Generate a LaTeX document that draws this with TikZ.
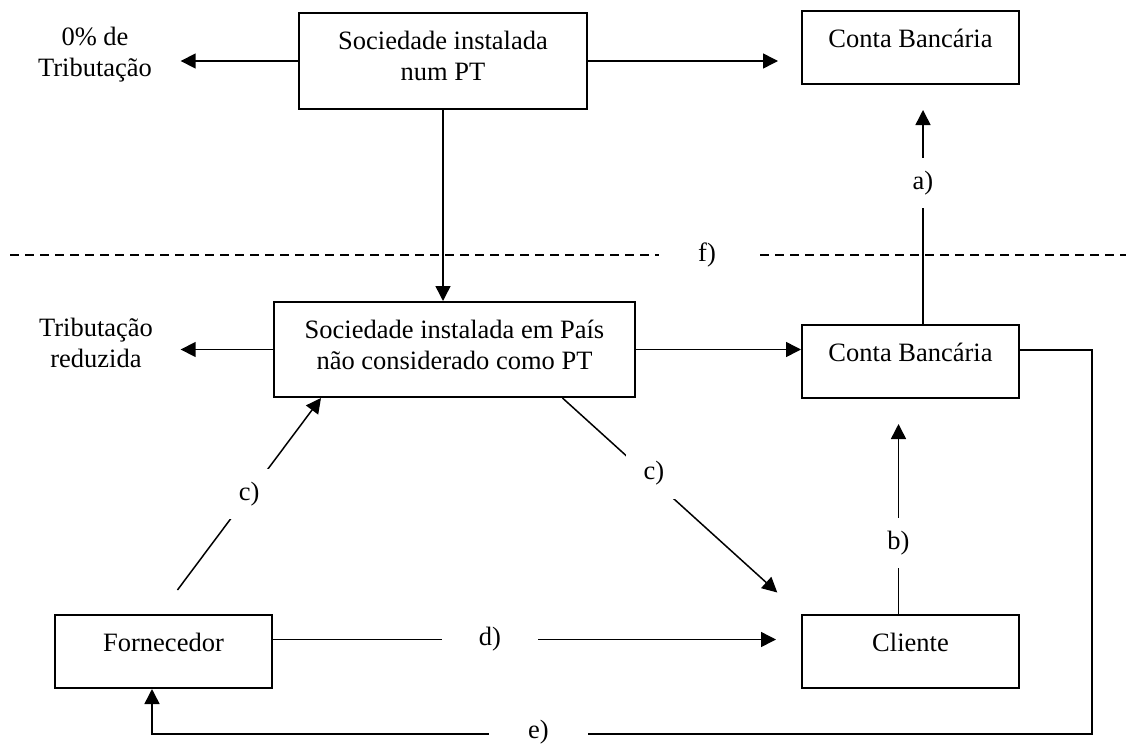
\documentclass[tikz,border=0pt]{standalone}
\usepackage{fontspec}
\setmainfont{Liberation Serif}
\usetikzlibrary{positioning}
\usetikzlibrary{arrows.meta}

\newcommand{\boxtxt}[3]{\parbox[c][#2][t]{#1}{\centering\rule{0pt}{36pt}#3}}

\begin{document}
\begin{tikzpicture}[
    x=1pt, y=-1pt,
    font=\fontsize{26.5}{31}\selectfont,
    line width=1.5pt,
    node distance=215pt
]
\tikzstyle{box}=[draw, line width=2pt, inner sep=0pt]
\tikzstyle{arr}=[-{Triangle[length=15pt,width=15pt]}]
\tikzstyle{lbl}=[fill=white, inner sep=0pt, minimum height=50pt]
\tikzstyle{dashes}=[line width=1.2pt, dash pattern=on 9pt off 6pt]

\useasboundingbox (0,0) rectangle (1126,744);

% Upper level
\node[box] (socpt) at (443,61) {\boxtxt{288pt}{96pt}{Sociedade instalada\\num PT}};
\node[align=center, inner sep=0pt] (zero) at (95,55) {0\% de\\Tributação};

% Lower level
\node[box] (mid) at (454.5,349.5) {\boxtxt{361pt}{95pt}{Sociedade instalada em País\\não considerado como PT}};
\node[align=center, inner sep=0pt] (reduz) at (96,343) {Tributação\\reduzida};
\node[box] (conta2) at (910.5,361.5) {\boxtxt{217pt}{73pt}{Conta Bancária}};
\node[box, above=239pt of conta2] (conta1) {\boxtxt{217pt}{73pt}{Conta Bancária}};
\node[box, below=of conta2] (cliente) {\boxtxt{217pt}{73pt}{Cliente}};
\node[box, left=528pt of cliente] (forn) {\boxtxt{217pt}{73pt}{Fornecedor}};

% Border between the two levels
\coordinate (fl) at (10,255);
\coordinate (fr) at (1126,255);
\draw[dashes] (fl) -- node[lbl, pos=0.6246, minimum width=97pt] (lf) {f)} (fr);

% Connections
\draw[arr, shorten >=28pt] (socpt.west) -- (socpt.west -| zero.east);
\draw[arr, shorten >=23pt] (socpt.east) -- (socpt.east -| conta1.west);
\draw[arr] (socpt.south) -- (socpt.south |- mid.north);

\draw[arr, shorten >=27pt] (mid.west) -- (mid.west -| reduz.east);
\draw[arr] (mid.east) -- (mid.east -| conta2.west);

\draw[arr, shorten >=25pt] ([xshift=12.5pt]conta2.north) -- node[lbl, pos=0.59] (la) {a)} ([xshift=12.5pt]conta2.north |- conta1.south);
\draw[arr, shorten >=25pt] ([xshift=-12pt]cliente.north) -- node[lbl, pos=0.33] (lb) {b)} ([xshift=-12pt]cliente.north |- conta2.south);

\draw[arr, shorten <=30pt] ([xshift=-4pt]forn.north) -- node[lbl, pos=0.555, minimum width=40pt] (lc1) {c)} ([xshift=48pt]mid.south west);
\draw[arr, shorten >=32pt] ([xshift=108pt]mid.south) -- node[lbl, pos=0.35, xshift=8pt, minimum width=56pt] (lc2) {c)} (cliente.north west);

\draw[arr, shorten >=25pt] ([yshift=12pt]forn.east) -- node[lbl, pos=0.411, minimum width=96pt] (ld) {d)} ([yshift=12pt]forn.east -| cliente.west);

\coordinate (ecorner) at (1092,734);
\draw[arr] ([yshift=11.5pt]conta2.east) -| (ecorner) -- node[lbl, pos=0.589, yshift=1.5pt, minimum width=99pt] (le) {e)} ([xshift=-11.5pt]forn.south |- ecorner) -- ([xshift=-11.5pt]forn.south);

\end{tikzpicture}
\end{document}
